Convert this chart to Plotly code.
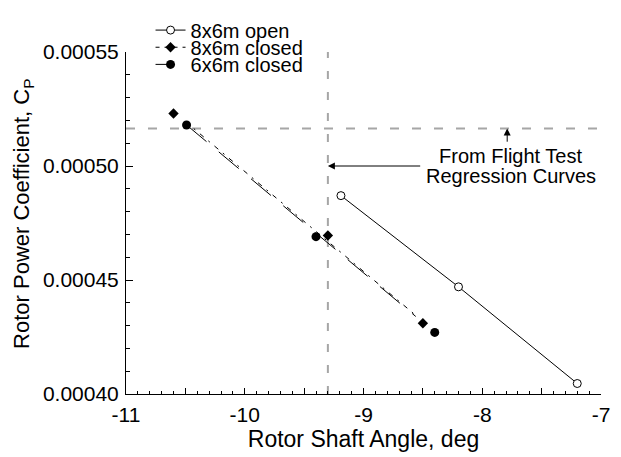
import plotly.graph_objects as go

# Data
open86_x = [-9.19, -8.2, -7.2]
open86_y = [0.000487, 0.000447, 0.0004046]

closed86_x = [-10.6, -9.3, -8.5]
closed86_y = [0.000523, 0.0004695, 0.000431]

closed66_x = [-10.49, -9.40, -8.40]
closed66_y = [0.000518, 0.000469, 0.000427]

# regression line end points for closed cases
fit86_x = [-10.50, -8.56]
fit86_y = [0.0005195, 0.0004345]
fit66_x = [-10.49, -8.56]
fit66_y = [0.000518, 0.000434]

flight_angle = -9.3
flight_cp = 0.0005165

x_tickvals = [-11, -10.5, -10, -9.5, -9, -8.5, -8, -7.5, -7]
x_ticktext = ["-11", " ", "-10", " ", "-9", " ", "-8", " ", "-7"]

FONT = "Liberation Sans, Arial, sans-serif"
FS = 20       # legend / annotation text
FS_TICK = 21  # tick labels
FS_TITLE = 23 # axis titles

fig = go.Figure()

# 8x6m open
fig.add_trace(go.Scatter(
    x=open86_x, y=open86_y, mode="lines+markers", name="8x6m open",
    line=dict(color="black", width=1),
    marker=dict(symbol="circle", size=8, color="white", line=dict(width=1, color="black")),
    legend="legend"))

# 8x6m closed: regression line + points
fig.add_trace(go.Scatter(
    x=fit86_x, y=fit86_y, mode="lines", showlegend=False,
    line=dict(color="black", width=1, dash="5px,6px,2px,6px")))
fig.add_trace(go.Scatter(
    x=closed86_x, y=closed86_y, mode="markers", showlegend=False,
    marker=dict(symbol="diamond", size=8, color="black")))
fig.add_trace(go.Scatter(
    x=[None], y=[None], mode="lines+markers", name="8x6m closed",
    line=dict(color="black", width=1, dash="4px,5px"),
    marker=dict(symbol="diamond", size=8, color="black"),
    legend="legend2"))

# 6x6m closed: regression line + points
fig.add_trace(go.Scatter(
    x=fit66_x, y=fit66_y, mode="lines", showlegend=False,
    line=dict(color="black", width=1, dash="26px,16px")))
fig.add_trace(go.Scatter(
    x=closed66_x, y=closed66_y, mode="markers", showlegend=False,
    marker=dict(symbol="circle", size=9, color="black")))
fig.add_trace(go.Scatter(
    x=[None], y=[None], mode="lines+markers", name="6x6m closed",
    line=dict(color="black", width=1, dash="16px,100px"),
    marker=dict(symbol="circle", size=9, color="black"),
    legend="legend3"))

gray = "#a6a6a6"
fig.add_shape(type="line", x0=-11, x1=-7, y0=flight_cp, y1=flight_cp,
              xref="x", yref="y", line=dict(color=gray, width=2, dash="9px,13px"), layer="below")
fig.add_shape(type="line", x0=flight_angle, x1=flight_angle, y0=0.0004, y1=0.000552,
              xref="x", yref="y", line=dict(color=gray, width=2, dash="8px,13px"), layer="below")

# annotations
fig.add_annotation(x=-7.76, y=0.0005046, text="From Flight Test", showarrow=False,
                   font=dict(family=FONT, size=FS, color="black"), xanchor="center",
                   yanchor="middle")
fig.add_annotation(x=-7.76, y=0.0004954, text="Regression Curves", showarrow=False,
                   font=dict(family=FONT, size=FS, color="black"), xanchor="center",
                   yanchor="middle")
# left arrow
fig.add_annotation(x=flight_angle, y=0.0005, ax=-8.51, ay=0.0005, xref="x", yref="y",
                   axref="x", ayref="y", text="", showarrow=True, arrowhead=2, arrowsize=1.4,
                   arrowwidth=1, arrowcolor="black")
# up arrow
fig.add_annotation(x=-7.79, y=flight_cp, ax=-7.79, ay=0.000510, xref="x", yref="y",
                   axref="x", ayref="y", text="", showarrow=True, arrowhead=2, arrowsize=1.4,
                   arrowwidth=1, arrowcolor="black")

W, H = 621, 457
ml, mr, mt, mb = 126, 11, 38, 60
ph = H - mt - mb
pw = W - ml - mr

def ly(py):
    return (H - mb - py) / ph

def lx(px):
    return (px - ml) / pw

# y-axis title
fig.add_annotation(xref="paper", yref="paper", x=lx(21), y=ly(208),
                   text="Rotor Power Coefficient, C<sub>P</sub>", textangle=-90,
                   showarrow=False, xanchor="center", yanchor="middle",
                   font=dict(family=FONT, size=22, color="black"))

leg_common = dict(font=dict(family=FONT, size=FS, color="black"), bgcolor="rgba(0,0,0,0)",
                  xanchor="left", yanchor="middle", x=lx(151), itemsizing="trace")

fig.update_layout(
    width=W, height=H,
    margin=dict(l=ml, r=mr, t=mt, b=mb),
    paper_bgcolor="white", plot_bgcolor="white",
    font=dict(family=FONT, size=FS, color="black"),
    legend=dict(**leg_common, y=ly(15)),
    legend2=dict(**leg_common, y=ly(33)),
    legend3=dict(**leg_common, y=ly(51)),
    xaxis=dict(range=[-11, -7], showgrid=False, zeroline=False,
               showline=True, linecolor="black", linewidth=1,
               ticks="inside", ticklen=6, tickcolor="black",
               tickmode="array", tickvals=x_tickvals, ticktext=x_ticktext,
               minor=dict(dtick=0.1, ticks="inside", ticklen=3, tickcolor="black"),
               ticklabelstandoff=2,
               title=dict(text="Rotor Shaft Angle, deg", standoff=4,
                          font=dict(family=FONT, size=FS_TITLE, color="black")),
               tickfont=dict(family=FONT, size=FS_TICK, color="black")),
    yaxis=dict(range=[0.0004, 0.00055], showgrid=False, zeroline=False,
               showline=True, linecolor="black", linewidth=1,
               ticks="inside", ticklen=7, tickcolor="black",
               dtick=0.00005, tick0=0.0004, tickformat=".5f",
               minor=dict(dtick=0.00001, ticks="inside", ticklen=4, tickcolor="black"),
               ticklabelstandoff=2,
               tickfont=dict(family=FONT, size=FS_TICK, color="black")),
)

fig.write_html("out.html")
